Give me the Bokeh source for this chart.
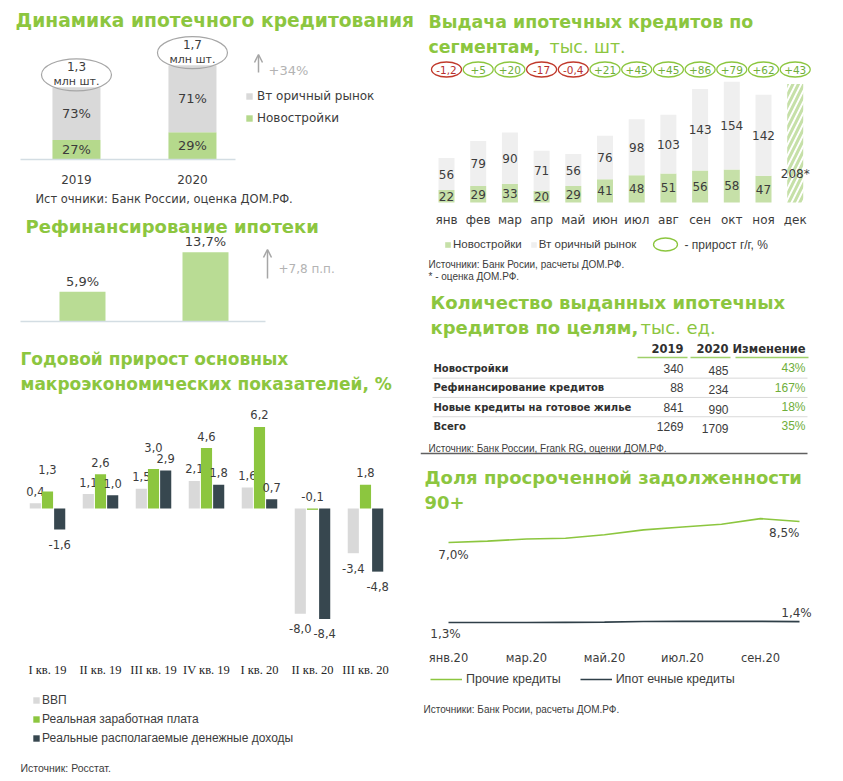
import numpy as np
from bokeh.plotting import figure
from bokeh.layouts import row, column
from bokeh.models import Range1d, Label, Arrow, OpenHead, Legend, LegendItem
from bokeh.core.properties import value
from bokeh.embed import file_html
from bokeh.resources import INLINE

# ---------------- data ----------------
years = ["2019", "2020"]
total_mln = [1.3, 1.7]
share_new = [27, 29]
share_sec = [73, 71]
total_growth = "+34%"

refi_years = ["2019", "2020"]
refi_share = [5.9, 13.7]
refi_change = "+7,8 п.п."

quarters = ["I кв. 19", "II кв. 19", "III кв. 19", "IV кв. 19", "I кв. 20", "II кв. 20", "III кв. 20"]
gdp = [0.4, 1.1, 1.5, 2.1, 1.6, -8.0, -3.4]
wages = [1.3, 2.6, 3.0, 4.6, 6.2, -0.1, 1.8]
income = [-1.6, 1.0, 2.9, 1.8, 0.7, -8.4, -4.8]

months = ["янв", "фев", "мар", "апр", "май", "июн", "июл", "авг", "сен", "окт", "ноя", "дек"]
new_build = [22, 29, 33, 20, 29, 41, 48, 51, 56, 58, 47]
secondary = [56, 79, 90, 71, 56, 76, 98, 103, 143, 154, 142]
dec_estimate = 208
yoy = [-1.2, 5, 20, -17, -0.4, 21, 45, 45, 86, 79, 62, 43]

purposes = ["Новостройки", "Рефинансирование кредитов", "Новые кредиты на готовое жилье", "Всего"]
loans_2019 = [340, 88, 841, 1269]
loans_2020 = [485, 234, 990, 1709]
change_pct = [43, 167, 18, 35]

npl_months = ["янв.20", "фев.20", "мар.20", "апр.20", "май.20", "июн.20", "июл.20", "авг.20", "сен.20", "окт.20"]
npl_other = [7.0, 7.1, 7.25, 7.3, 7.55, 7.9, 8.1, 8.3, 8.7, 8.5]
npl_mortgage = [1.3, 1.3, 1.3, 1.31, 1.33, 1.37, 1.38, 1.38, 1.38, 1.36]

# ---------------- style ----------------
TG = "#8cc63f"
TXT = "#3c3c3c"
F = "DejaVu Sans"
FS = "Liberation Sans"


def fmt(v, nd=1):
    return f"{v:.{nd}f}".replace(".", ",")


class Panel:
    def __init__(self, w, h, xr, yr):
        self.w, self.h = w, h
        self.x0, self.x1 = xr
        self.y0, self.y1 = yr
        self.p = figure(width=w, height=h, x_range=Range1d(*xr), y_range=Range1d(*yr),
                        output_backend="svg", toolbar_location=None, min_border=0,
                        x_axis_location=None, y_axis_location=None,
                        outline_line_color=None, background_fill_color="white",
                        border_fill_color="white")
        self.p.xgrid.visible = False
        self.p.ygrid.visible = False

    def dx(self, px):
        return self.x0 + px / self.w * (self.x1 - self.x0)

    def dy(self, py):
        return self.y1 - py / self.h * (self.y1 - self.y0)

    def label(self, px, py, s, size=12, color=TXT, bold=False, align="left",
              baseline="middle", font=F):
        self.p.add_layout(Label(x=self.dx(px), y=self.dy(py), text=s, text_font=font,
                                text_font_size=f"{size}px", text_color=color,
                                text_align=align, text_baseline=baseline,
                                text_font_style="bold" if bold else "normal"))

    def arrow(self, px, py0, py1, color="#a6a6a6"):
        self.p.add_layout(Arrow(end=OpenHead(size=8, line_color=color, line_width=1.5),
                                x_start=self.dx(px), y_start=self.dy(py0),
                                x_end=self.dx(px), y_end=self.dy(py1),
                                line_color=color, line_width=1.5))


def legend(p, items, loc, orient="vertical", gw=8, gh=8, size=12, lh=20, spacing=2,
           standoff=4, font=F):
    lg = Legend(items=items, location=loc, orientation=orient, glyph_width=gw,
                glyph_height=gh, label_text_font_size=f"{size}px", label_text_font=font,
                label_text_color=TXT, label_height=lh, spacing=spacing,
                label_standoff=standoff, padding=0, margin=0, border_line_color=None,
                background_fill_alpha=0)
    p.add_layout(lg)
    return lg


# ======== Panel 1: dynamics ========
P1 = Panel(412, 200, (-0.586, 2.966), (-0.883, 2.721))
p1 = P1.p
P1.label(7, 12, "Динамика ипотечного кредитования", size=18.7, color=TG, bold=True)
idx = np.arange(len(years))
tot = np.array(total_mln)
newv = tot * np.array(share_new) / 100.0
r_new = p1.vbar(x=idx, bottom=0, top=newv, width=0.414, fill_color="#b5d98c", line_color=None)
r_sec = p1.vbar(x=idx, bottom=newv, top=tot, width=0.414, fill_color="#d9d9d9", line_color=None)
p1.segment(x0=[P1.dx(12)], x1=[P1.dx(227)], y0=[0], y1=[0], line_color="#d3dde3", line_width=1.5)
p1.text(x=idx, y=newv / 2, text=[f"{s}%" for s in share_new], text_align="center",
        text_baseline="middle", text_font=value(F), text_font_size="13px", text_color=TXT)
p1.text(x=idx, y=(newv + tot) / 2, text=[f"{s}%" for s in share_sec], text_align="center",
        text_baseline="middle", text_font=value(F), text_font_size="13px", text_color=TXT)
p1.ellipse(x=idx, y=tot + 12.5 / 55.5, width=70, height=32, width_units="screen",
           height_units="screen", fill_color=None, line_color="#a6a6a6", line_width=1.2)
p1.text(x=idx, y=tot, y_offset=-21, text=[fmt(v) for v in total_mln], text_align="center",
        text_baseline="middle", text_font=value(F), text_font_size="12px", text_color=TXT)
p1.text(x=idx, y=tot, y_offset=-6, text=["млн шт."] * 2, text_align="center",
        text_baseline="middle", text_font=value(F), text_font_size="11px", text_color=TXT)
p1.text(x=idx, y=[0, 0], y_offset=20, text=years, text_align="center", text_baseline="middle",
        text_font=value(F), text_font_size="12px", text_color=TXT)
P1.arrow(250, 64, 46)
P1.label(260, 62, total_growth, size=13, color="#b3b3b3")
legend(p1, [LegendItem(label="Вт оричный рынок", renderers=[r_sec]),
            LegendItem(label="Новостройки", renderers=[r_new])], (237, 80))
P1.label(27, 190, "Ист очники: Банк России, оценка ДОМ.РФ.", size=11.5)

# ======== Panel 2: refinancing ========
P2 = Panel(412, 132, (-0.6016, 2.748), (-3.762, 22.376))
p2 = P2.p
P2.label(17, 18, "Рефинансирование ипотеки", size=18, color=TG, bold=True)
idx2 = np.arange(len(refi_share))
p2.vbar(x=idx2, bottom=0, top=refi_share, width=0.374, fill_color="#b9dc94", line_color=None)
p2.segment(x0=[P2.dx(12)], x1=[P2.dx(257)], y0=[0], y1=[0], line_color="#d3dde3", line_width=1.5)
p2.text(x=idx2, y=refi_share, y_offset=-3, text=[fmt(v) + "%" for v in refi_share],
        text_align="center", text_baseline="bottom", text_font=value(F),
        text_font_size="13px", text_color=TXT)
P2.arrow(259, 70, 41)
P2.label(270, 60, refi_change, size=12, color="#b3b3b3")

# ======== Panel 3: macro ========
P3 = Panel(412, 433, (-0.736, 7.038), (-20.15, 12.776))
p3 = P3.p
P3.label(12, 18, "Годовой прирост  основных", size=17, color=TG, bold=True)
P3.label(12, 43, "макроэкономических  показателей, %", size=17, color=TG, bold=True)
qi = np.arange(len(quarters))
g_arr, w_arr, i_arr = np.array(gdp), np.array(wages), np.array(income)
crowded = np.abs(w_arr - np.maximum(g_arr, i_arr)) < 1.0
series = [(gdp, -0.23, "#d9d9d9", "ВВП", np.zeros(len(qi), bool)),
          (wages, 0.0, "#8cc63f", "Реальная заработная плата", crowded),
          (income, 0.23, "#37474f", "Реальные располагаемые денежные доходы", np.zeros(len(qi), bool))]
items3 = []
for vals, off, col, name, push in series:
    v = np.array(vals)
    r = p3.vbar(x=qi + off, bottom=0, top=v, width=0.21, fill_color=col, line_color=None)
    items3.append(LegendItem(label=name, renderers=[r]))
    ys = np.where(v > -0.5, np.maximum(v, 0), v)
    yo = np.where(v > -0.5, -12, 15) - np.where(push, 10, 0)
    p3.text(x=qi + off, y=ys, y_offset=yo, text=[fmt(x) for x in vals], text_align="center",
            text_baseline="middle", text_font=value(F), text_font_size="11.5px", text_color=TXT)
p3.text(x=qi, y=[P3.dy(329)] * len(qi), text=quarters, text_align="center",
        text_baseline="middle", text_font=value("Liberation Serif"), text_font_size="12.5px",
        text_color="#262626")
legend(p3, items3, (24, 27), size=12, lh=17, spacing=2, standoff=2, font=FS)
P3.label(12, 427, "Источник: Росстат.", size=10.5, font=FS)

# ======== Panel 4: monthly issuance ========
P4 = Panel(415, 274, (-0.820, 12.271), (-140.35, 340.35))
p4 = P4.p
P4.label(8, 13, "Выдача ипотечных кредитов по", size=17.4, color=TG, bold=True)
P4.label(8, 38, "сегментам,", size=17.4, color=TG, bold=True)
P4.label(129, 38, "тыс. шт.", size=17.4, color=TG)
mi = np.arange(len(new_build))
nb = np.array(new_build)
sc = np.array(secondary)
r4n = p4.vbar(x=mi, bottom=0, top=nb, width=0.505, fill_color="#c6e0a8", line_color=None)
r4s = p4.vbar(x=mi, bottom=nb, top=nb + sc, width=0.505, fill_color="#efefef", line_color=None)
p4.vbar(x=[len(months) - 1], bottom=0, top=[dec_estimate], width=0.505, fill_color="white",
        line_color=None, hatch_pattern="/", hatch_color="#c6e0a8", hatch_weight=3,
        hatch_scale=11)
p4.text(x=mi, y=nb / 2, text=[str(v) for v in new_build], text_align="center",
        text_baseline="middle", text_font=value(F), text_font_size="12px", text_color=TXT)
p4.text(x=mi, y=nb + sc / 2, text=[str(v) for v in secondary], text_align="center",
        text_baseline="middle", text_font=value(F), text_font_size="12px", text_color=TXT)
p4.text(x=[len(months) - 1], y=[dec_estimate * 0.24], text=[f"{dec_estimate}*"],
        text_align="center", text_baseline="middle", text_font=value(F),
        text_font_size="12px", text_color=TXT)
ai = np.arange(len(yoy))
ycol = ["#c0392b" if v < 0 else TG for v in yoy]
tcol = ["#b8312f" if v < 0 else "#6fae3a" for v in yoy]
ytxt = [("+" if v > 0 else "") + (str(int(v)) if float(v).is_integer() else fmt(v)) for v in yoy]
p4.ellipse(x=ai, y=[P4.dy(61)] * len(ai), width=30, height=15, width_units="screen",
           height_units="screen", fill_color=None, line_color=ycol, line_width=1.3)
p4.text(x=ai, y=[P4.dy(61)] * len(ai), text=ytxt, text_align="center", text_baseline="middle",
        text_font=value(F), text_font_size="10.5px", text_color=tcol)
p4.text(x=np.arange(len(months)), y=[P4.dy(211)] * len(months), text=months,
        text_align="center", text_baseline="middle", text_font=value(F),
        text_font_size="12px", text_color=TXT)
legend(p4, [LegendItem(label="Новостройки", renderers=[r4n]),
            LegendItem(label="Вт оричный рынок", renderers=[r4s])], (24, 30),
       orient="horizontal", gw=7, gh=7, size=11.5, lh=16, spacing=8, standoff=2, font=FS)
p4.ellipse(x=[P4.dx(245)], y=[P4.dy(236)], width=24, height=13, width_units="screen",
           height_units="screen", fill_color=None, line_color=TG, line_width=1.3)
P4.label(264, 236, "- прирост г/г, %", size=12, font=FS)
P4.label(8, 256, "Источники: Банк Росии, расчеты ДОМ.РФ.", size=10, font=FS)
P4.label(8, 268, "* - оценка ДОМ.РФ.", size=10, font=FS)

# ======== Panel 5: table ========
P5 = Panel(415, 178, (0, 415), (4.767, -4.456))
p5 = P5.p
P5.label(10, 20, "Количество выданных ипотечных", size=18, color=TG, bold=True)
P5.label(10, 45, "кредитов по целям,", size=18, color=TG, bold=True)
P5.label(220, 45, "тыс. ед.", size=18, color=TG)
cols_x = [263, 308, 385]
for cx, hdr in zip(cols_x, ["2019", "2020", "Изменение"]):
    P5.label(cx, 66, hdr, size=11.5, bold=True, align="right", color="#303030")
p5.segment(x0=[217, 270, 315], x1=[267, 310, 388], y0=[P5.dy(75)] * 3, y1=[P5.dy(75)] * 3,
           line_color="#9fd06a", line_width=1.5)
ri = np.arange(len(purposes))
p5.segment(x0=[12] * 3, x1=[387] * 3, y0=ri[:-1] + 0.5, y1=ri[:-1] + 0.5,
           line_color="#d9d9d9", line_width=1)
p5.text(x=[13] * len(ri), y=ri, text=purposes, text_align="left", text_baseline="middle",
        text_font=value(F), text_font_size="10px", text_font_style="bold", text_color="#303030")
p5.text(x=[cols_x[0]] * len(ri), y=ri, text=[str(v) for v in loans_2019], text_align="right",
        text_baseline="middle", text_font=value(FS), text_font_size="12px", text_color=TXT)
p5.text(x=[cols_x[1]] * len(ri), y=ri, y_offset=2, text=[str(v) for v in loans_2020],
        text_align="right", text_baseline="middle", text_font=value(FS),
        text_font_size="12px", text_color=TXT)
p5.text(x=[cols_x[2]] * len(ri), y=ri, text=[f"{v}%" for v in change_pct], text_align="right",
        text_baseline="middle", text_font=value(FS), text_font_size="12px", text_color="#6fae3a")
P5.label(8, 166, "Источник: Банк России, Frank RG, оценки ДОМ.РФ.", size=10, font=FS)
p5.segment(x0=[0], x1=[387], y0=[P5.dy(171)], y1=[P5.dy(171)], line_color="#606060",
           line_width=1.5)

# ======== Panel 6: NPL ========
P6 = Panel(415, 313, (-0.718, 9.923), (-9.459, 12.843))
p6 = P6.p
P6.label(4, 17, "Доля просроченной  задолженности", size=18, color=TG, bold=True)
P6.label(4, 42, "90+", size=18, color=TG, bold=True)
ni = np.arange(len(npl_months))
r6a = p6.line(x=ni, y=npl_other, line_color="#8cc63f", line_width=1.6)
r6b = p6.line(x=ni, y=npl_mortgage, line_color="#2f3f48", line_width=1.6)
last = len(ni) - 1
p6.text(x=[0, last], y=[npl_other[0], npl_other[-1]], x_offset=[5, 0], y_offset=[12, 12],
        text=[fmt(npl_other[0]) + "%", fmt(npl_other[-1]) + "%"], text_align=["center", "right"],
        text_baseline="middle", text_font=value(F), text_font_size="12px", text_color=TXT)
p6.text(x=[0, last], y=[npl_mortgage[0], npl_mortgage[-1]], x_offset=[-3, -3],
        y_offset=[11, -9], text=[fmt(npl_mortgage[0]) + "%", fmt(round(max(npl_mortgage) + 0.02, 1)) + "%"],
        text_align="center", text_baseline="middle", text_font=value(F),
        text_font_size="12px", text_color=TXT)
p6.text(x=ni[::2], y=[P6.dy(197)] * len(ni[::2]), text=npl_months[::2], text_align="center",
        text_baseline="middle", text_font=value(F), text_font_size="11.5px", text_color=TXT)
legend(p6, [LegendItem(label="Прочие кредиты", renderers=[r6a]),
            LegendItem(label="Ипот ечные кредиты", renderers=[r6b])], (10, 84),
       orient="horizontal", gw=32, gh=10, size=12.5, lh=20, spacing=19, standoff=4, font=FS)
P6.label(3, 249, "Источники: Банк Росии, расчеты ДОМ.РФ.", size=10, font=FS)

layout = row(column(P1.p, P2.p, P3.p), column(P4.p, P5.p, P6.p), margin=(8, 0, 0, 8))
open("out.html", "w").write(file_html(layout, INLINE))
